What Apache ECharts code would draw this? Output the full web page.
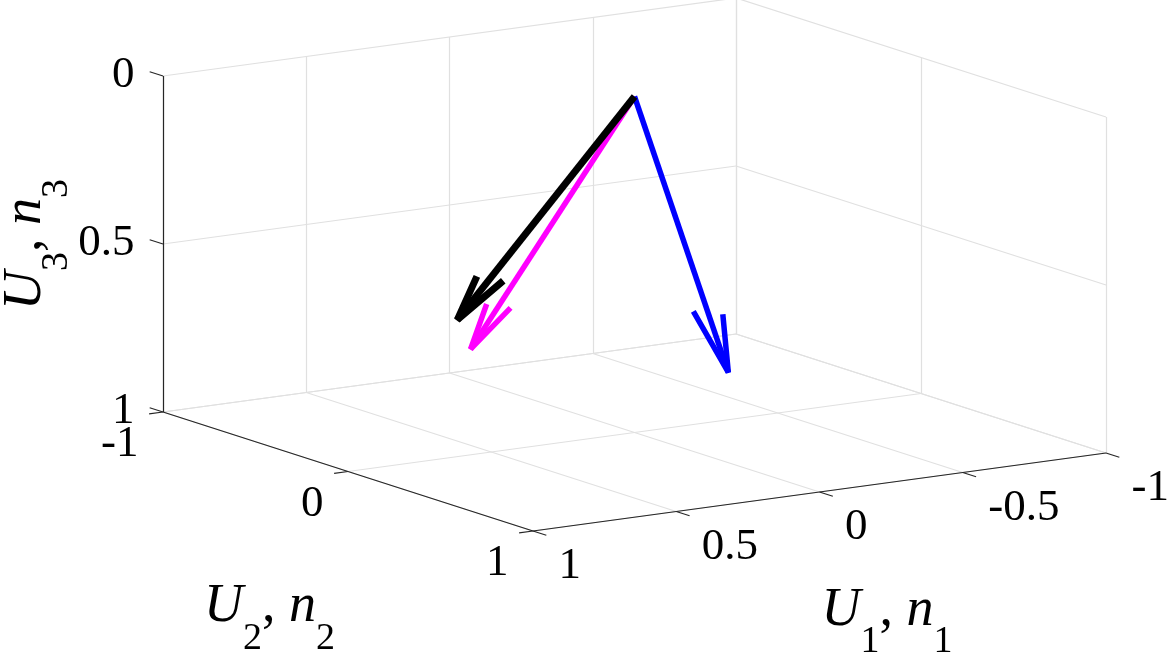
<!DOCTYPE html>
<html>
<head>
<meta charset="utf-8">
<script src="https://cdn.jsdelivr.net/npm/echarts@6/dist/echarts.min.js"></script>
<style>
  html, body { margin: 0; padding: 0; background: #fff; }
  #chart { width: 1167px; height: 655px; }
</style>
</head>
<body>
<div id="chart"></div>
<script>
// vectors [U1, U2, U3], all drawn from the origin
const vecOrigin = [0, 0, 0];
const vecMagenta = [0.74, 0.26, 0.62];
const vecBlue = [-0.56, -0.36, 0.95];
const vecBlack = [0.78, 0.25, 0.53];

// ticks
const u1Ticks = [-1, -0.5, 0, 0.5, 1];
const u1Labels = ['-1', '-0.5', '0', '0.5', '1'];
const u2Ticks = [-1, 0, 1];
const u2Labels = ['-1', '0', '1'];
const u3Ticks = [0, 0.5, 1];
const u3Labels = ['0', '0.5', '1'];

// view: screen position of the 3D origin and screen step of one unit on each axis
const view = { o: [634.5, 96.5], ex: [-286.5, 39], ey: [185, 59.5], ez: [0, 336] };
function proj(p) {
  return [
    view.o[0] + p[0] * view.ex[0] + p[1] * view.ey[0] + p[2] * view.ez[0],
    view.o[1] + p[0] * view.ex[1] + p[1] * view.ey[1] + p[2] * view.ez[1]
  ];
}
function seg(p, q) {
  return { coords: [proj(p), proj(q)] };
}

const TEXT = '#000';
const FONT = 'Liberation Serif';
const tickLen = 14;
const tU1 = tickLen / Math.hypot(view.ex[0], view.ex[1]);
const tU2 = tickLen / Math.hypot(view.ey[0], view.ey[1]);

// grid on the back walls and the floor
let gridSegs = [];
u1Ticks.forEach(t => {
  gridSegs.push(seg([t, -1, 0], [t, -1, 1]));
  gridSegs.push(seg([t, -1, 1], [t, 1, 1]));
});
u2Ticks.forEach(t => {
  gridSegs.push(seg([-1, t, 0], [-1, t, 1]));
  gridSegs.push(seg([-1, t, 1], [1, t, 1]));
});
u3Ticks.forEach(s => {
  gridSegs.push(seg([1, -1, s], [-1, -1, s]));
  gridSegs.push(seg([-1, -1, s], [-1, 1, s]));
});

// axis lines + ticks
let axisSegs = [
  seg([1, -1, 0], [1, -1, 1]),
  seg([1, -1, 1], [1, 1, 1]),
  seg([1, 1, 1], [-1, 1, 1])
];
u1Ticks.forEach(t => axisSegs.push(seg([t, 1, 1], [t, 1 + tU2, 1])));
u2Ticks.forEach(t => axisSegs.push(seg([1, t, 1], [1 + tU1, t, 1])));
u3Ticks.forEach(s => axisSegs.push(seg([1, -1, s], [1, -1 - tU2, s])));

// quiver3 style arrow: shaft + two barbs
function arrowItems(vec, head) {
  const beta = 0.33;
  const s = vecOrigin;
  const t = [s[0] + vec[0], s[1] + vec[1], s[2] + vec[2]];
  const b1 = [t[0] - head * (vec[0] + beta * vec[1]), t[1] - head * (vec[1] - beta * vec[0]), t[2] - head * vec[2]];
  const b2 = [t[0] - head * (vec[0] - beta * vec[1]), t[1] - head * (vec[1] + beta * vec[0]), t[2] - head * vec[2]];
  return [
    { coords: [proj(s), proj(t)] },
    { coords: [proj(b1), proj(t), proj(b2)] }
  ];
}
function arrowSeries(name, vec, color, width, head) {
  return {
    name: name,
    type: 'lines',
    coordinateSystem: 'cartesian2d',
    polyline: true,
    silent: true,
    z: 5,
    lineStyle: { color: color, width: width, opacity: 1, cap: 'butt', join: 'bevel' },
    data: arrowItems(vec, head)
  };
}

// tick labels
function tickLabel(pt, text, dx, dy, align) {
  const p = proj(pt);
  return {
    value: [p[0] + dx, p[1] + dy],
    label: { formatter: text, align: align }
  };
}
let labelData = [];
u1Ticks.forEach((t, i) => labelData.push(tickLabel([t, 1, 1], u1Labels[i], 26, 36, 'left')));
u2Ticks.forEach((t, i) => labelData.push(tickLabel([1, t, 1], u2Labels[i], -24, 33, 'right')));
u3Ticks.forEach((s, i) => labelData.push(tickLabel([1, -1, s], u3Labels[i], -28, 0, 'right')));

// axis titles
const titleRich = {
  it: { fontFamily: FONT, fontStyle: 'italic', fontSize: 54, color: TEXT },
  rm: { fontFamily: FONT, fontSize: 54, color: TEXT },
  sub: { fontFamily: FONT, fontSize: 38, color: TEXT, padding: [64, 0, 0, 0] }
};
function titleItem(pt, n, dx, dy, rot) {
  const p = proj(pt);
  return {
    value: [p[0] + dx, p[1] + dy],
    label: {
      formatter: '{it|U}{sub|' + n + '}{rm|, }{it|n}{sub|' + n + '}',
      rotate: rot,
      rich: titleRich
    }
  };
}
const titleData = [
  titleItem([0, 1, 1], '1', 68, 119, 0),
  titleItem([1, 0, 1], '2', -78, 136, 0),
  titleItem([1, -1, 0.5], '3', -137, 1, 90)
];

const chart = echarts.init(document.getElementById('chart'));
chart.setOption({
  animation: false,
  backgroundColor: '#fff',
  grid: { left: 0, right: 0, top: 0, bottom: 0 },
  xAxis: { type: 'value', min: 0, max: 1167, show: false },
  yAxis: { type: 'value', min: 0, max: 655, inverse: true, show: false },
  series: [
    {
      type: 'lines',
      coordinateSystem: 'cartesian2d',
      silent: true,
      z: 1,
      lineStyle: { color: '#e0e0e0', width: 1.2, opacity: 1 },
      data: gridSegs
    },
    {
      type: 'lines',
      coordinateSystem: 'cartesian2d',
      silent: true,
      z: 2,
      lineStyle: { color: '#262626', width: 1.2, opacity: 1 },
      data: axisSegs
    },
    arrowSeries('magenta', vecMagenta, '#ff00ff', 5.5, 0.171),
    arrowSeries('blue', vecBlue, '#0000ff', 5.5, 0.216),
    arrowSeries('black', vecBlack, '#000000', 7, 0.185),
    {
      type: 'scatter',
      silent: true,
      symbolSize: 1,
      itemStyle: { color: 'rgba(0,0,0,0)' },
      z: 6,
      label: {
        show: true,
        position: [0, 0],
        verticalAlign: 'middle',
        fontFamily: FONT,
        fontSize: 45,
        color: TEXT,
        opacity: 1
      },
      data: labelData
    },
    {
      type: 'scatter',
      silent: true,
      symbolSize: 1,
      itemStyle: { color: 'rgba(0,0,0,0)' },
      z: 6,
      label: {
        show: true,
        position: [0, 0],
        align: 'center',
        verticalAlign: 'middle',
        opacity: 1
      },
      data: titleData
    }
  ]
});
</script>
</body>
</html>
